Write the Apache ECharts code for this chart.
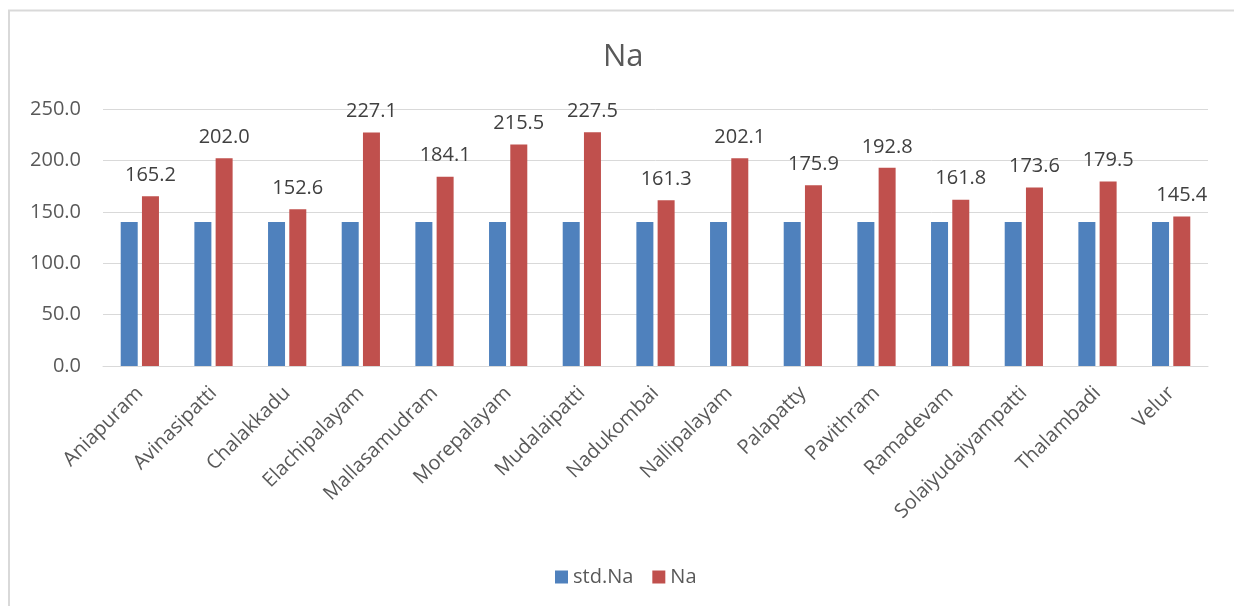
<!DOCTYPE html>
<html>
<head>
<meta charset="utf-8">
<script src="https://cdn.jsdelivr.net/npm/echarts@6/dist/echarts.min.js"></script>
<style>
  html, body { margin: 0; padding: 0; background: #fff; }
  #main { width: 1234px; height: 606px; }
</style>
</head>
<body>
<div id="main"></div>
<script>
var villages = ['Aniapuram', 'Avinasipatti', 'Chalakkadu', 'Elachipalayam', 'Mallasamudram',
    'Morepalayam', 'Mudalaipatti', 'Nadukombai', 'Nallipalayam', 'Palapatty',
    'Pavithram', 'Ramadevam', 'Solaiyudaiyampatti', 'Thalambadi', 'Velur'];
var stdNa = [140, 140, 140, 140, 140, 140, 140, 140, 140, 140, 140, 140, 140, 140, 140];
var na = [165.2, 202.0, 152.6, 227.1, 184.1, 215.5, 227.5, 161.3, 202.1, 175.9, 192.8, 161.8, 173.6, 179.5, 145.4];
var yTicks = [0, 50, 100, 150, 200, 250];

var font = 'Open Sans';
var myChart = echarts.init(document.getElementById('main'));
var option = {
    textStyle: { fontFamily: font },
    graphic: [{
        type: 'rect',
        shape: { x: 9, y: 10.5, width: 1400, height: 800 },
        style: { fill: 'none', stroke: '#d9d9d9', lineWidth: 2 },
        silent: true
    }],
    title: {
        text: 'Na',
        left: 598,
        top: 37,
        textStyle: { fontFamily: font, fontSize: 31, fontWeight: 'normal', color: '#595959' }
    },
    legend: {
        data: ['std.Na', 'Na'],
        top: 562,
        left: 550,
        icon: 'rect',
        itemWidth: 13,
        itemHeight: 13,
        itemGap: 19,
        textStyle: { fontFamily: font, fontSize: 20, color: '#595959' }
    },
    grid: { left: 103, right: 26, top: 109, bottom: 240, containLabel: false },
    xAxis: {
        type: 'category',
        data: villages,
        axisLine: { lineStyle: { color: '#d9d9d9' } },
        axisTick: { show: false },
        axisLabel: {
            rotate: 45,
            interval: 0,
            fontFamily: font,
            fontSize: 20,
            color: '#595959',
            margin: 24
        }
    },
    yAxis: {
        type: 'value',
        min: yTicks[0],
        max: yTicks[yTicks.length - 1],
        interval: 50,
        axisLine: { show: false },
        axisTick: { show: false },
        splitLine: { lineStyle: { color: '#d9d9d9', width: 1 } },
        axisLabel: {
            fontFamily: font,
            fontSize: 20,
            color: '#595959',
            margin: 22,
            formatter: function (v) { return v.toFixed(1); }
        }
    },
    series: [
        {
            name: 'std.Na',
            type: 'bar',
            data: stdNa,
            barWidth: 17,
            barGap: '25%',
            itemStyle: { color: '#4f81bd' }
        },
        {
            name: 'Na',
            type: 'bar',
            data: na,
            barWidth: 17,
            itemStyle: { color: '#c0504d' },
            label: {
                show: true,
                position: 'top',
                distance: 11,
                fontFamily: font,
                fontSize: 20,
                color: '#404040',
                formatter: function (p) { return p.value.toFixed(1); }
            }
        }
    ]
};
myChart.setOption(option);
</script>
</body>
</html>
